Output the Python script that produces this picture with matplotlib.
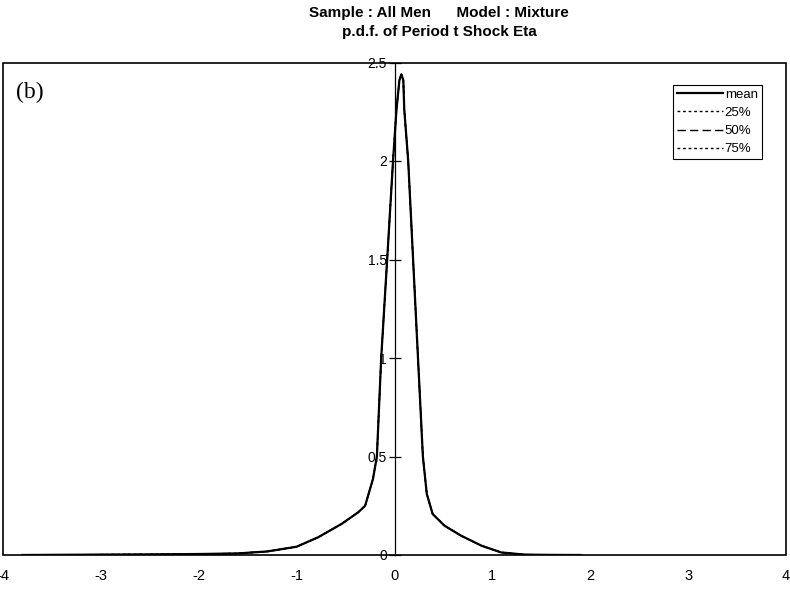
import matplotlib
matplotlib.use('Agg')
import matplotlib.pyplot as plt
from matplotlib.patches import Rectangle

# density of eta (the four curves lie on top of each other)
eta = [-3.8, -3.0, -2.5, -2.0, -1.6, -1.3, -1.0, -0.78, -0.54, -0.37, -0.30,
       -0.22, -0.18, -0.136, -0.075, -0.015, 0.02, 0.05, 0.07, 0.09, 0.10,
       0.14, 0.19, 0.24, 0.29, 0.33, 0.39, 0.51, 0.68, 0.89, 1.09, 1.33, 1.6, 1.9]
pdf_mean = [0.0, 0.002, 0.003, 0.005, 0.008, 0.018, 0.042, 0.09, 0.158, 0.217, 0.25,
            0.386, 0.5, 1.0, 1.5, 2.0, 2.26, 2.41, 2.44, 2.41, 2.26,
            2.0, 1.5, 1.0, 0.5, 0.31, 0.208, 0.149, 0.098, 0.047, 0.013, 0.002, 0.0005, 0.0]
pdf_q25 = pdf_mean
pdf_q50 = pdf_mean
pdf_q75 = pdf_mean

xticks = [-4, -3, -2, -1, 0, 1, 2, 3, 4]
yticks = [0, 0.5, 1, 1.5, 2, 2.5]
ytick_labels = ['0', '0.5', '1', '1.5', '2', '2.5']

plt.rcParams['font.family'] = ['Liberation Sans', 'DejaVu Sans']

fig = plt.figure(figsize=(7.9, 5.89), dpi=100)
ax = fig.add_axes([3/790, 1-555/589, 783/790, 492.5/589])

ax.plot(eta, pdf_mean, 'k-', lw=1.6, label='mean')
ax.plot(eta, pdf_q25, color='k', lw=1.0, dashes=(2, 2), label='25%')
ax.plot(eta, pdf_q50, color='k', lw=1.0, dashes=(6, 3), label='50%')
ax.plot(eta, pdf_q75, color='k', lw=1.0, dashes=(2, 2), label='75%')

ax.set_xlim(-4, 4)
ax.set_ylim(0, 2.5)

# y axis drawn through x = 0, box around the plot
for s in ['top', 'right', 'bottom']:
    ax.spines[s].set_visible(False)
ax.spines['left'].set_position(('data', 0))
ax.spines['left'].set_linewidth(0.9)
ax.add_patch(Rectangle((0, 0), 1, 1, transform=ax.transAxes, fill=False,
                       edgecolor='k', lw=1.2, clip_on=False))

ax.set_xticks(xticks)
ax.set_xticklabels([str(v) for v in xticks])
ax.set_yticks(yticks)
ax.set_yticklabels(ytick_labels)
ax.tick_params(axis='x', length=0, pad=10, labelsize=10.5)
for lab in ax.get_xticklabels():
    lab.set_family(['Liberation Sans Narrow', 'Liberation Sans'])
ax.tick_params(axis='y', direction='inout', length=9, width=0.9, pad=1, labelsize=10)

ax.text(13/783, (555-92)/492.5, '(b)', transform=ax.transAxes, family='Liberation Serif',
        fontsize=17, va='center', ha='left')

leg = ax.legend(loc='upper right', bbox_to_anchor=(0.969, 0.955), fontsize=9.5,
                frameon=True, fancybox=False, framealpha=1, edgecolor='k',
                handlelength=3.5, handletextpad=0.15, borderpad=0.3,
                labelspacing=0.45, borderaxespad=0)
leg.get_frame().set_linewidth(0.8)

fig.text(0.556, 0.978, 'Sample : All Men      Model : Mixture', ha='center', va='center',
         fontsize=11, fontweight='bold')
fig.text(0.556, 0.946, 'p.d.f. of Period t Shock Eta', ha='center', va='center',
         fontsize=11, fontweight='bold')

fig.savefig('out.png', dpi=100)
